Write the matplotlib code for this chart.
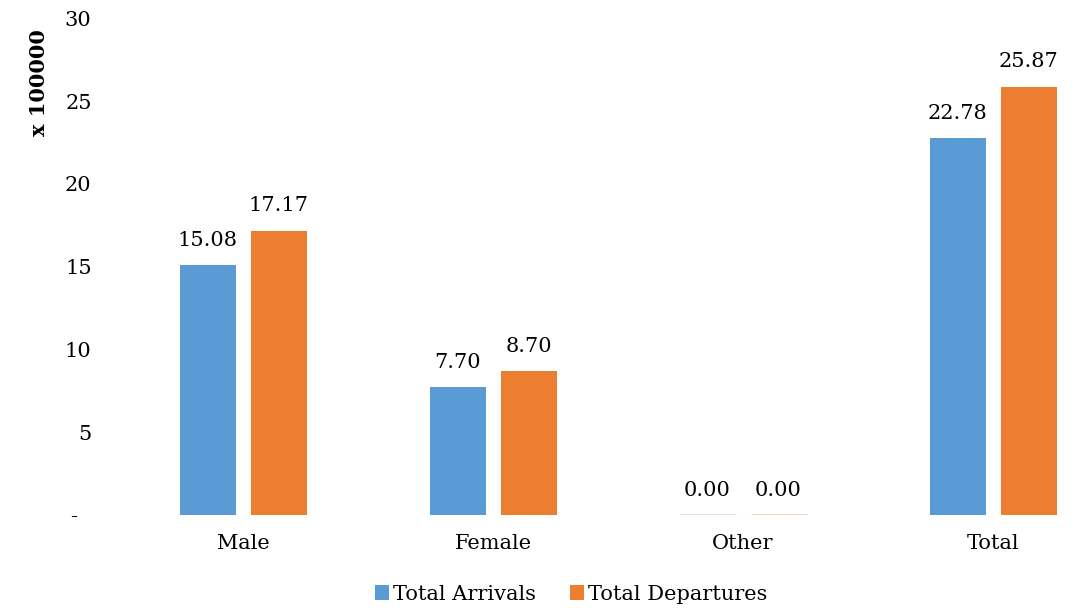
import matplotlib
matplotlib.use("Agg")
from matplotlib import pyplot as plt
import numpy as np

categorias = ["Male", "Female", "Other", "Total"]
llegadas = [15.08, 7.70, 0.00, 22.78]
salidas = [17.17, 8.70, 0.00, 25.87]
ticks_y = [0, 5, 10, 15, 20, 25, 30]
etiquetas_y = ["-  ", "5", "10", "15", "20", "25", "30"]

azul = "#5B9BD5"
naranja = "#ED7D31"

plt.rcParams['font.family'] = ['DejaVu Serif']

fig = plt.figure(figsize=(10.84, 6.08), dpi=100)
ax = fig.add_axes([0.0858, 0.153, 0.911, 0.817])

x = np.arange(len(categorias))
ancho = 0.224
desp = 0.142

b1 = ax.bar(x - desp, llegadas, ancho, color=azul, label="Total Arrivals")
b2 = ax.bar(x + desp, salidas, ancho, color=naranja, label="Total Departures")

for barras, claro in ((b1, "#cfdeee"), (b2, "#f5cdb4")):
    for b in barras:
        h = b.get_height()
        if h == 0:
            # barra vacia: solo una linea tenue
            ax.hlines(0, b.get_x(), b.get_x() + b.get_width(), color=claro, lw=2)
        ax.annotate("%.2f" % h, (b.get_x() + b.get_width() / 2, h),
                    xytext=(0, 11), textcoords="offset points",
                    ha="center", va="bottom", fontsize=15)

ax.set_xlim(-0.6, 3.35)
ax.set_ylim(0, 30)
ax.set_yticks(ticks_y)
ax.set_yticklabels(etiquetas_y, fontsize=15)
ax.set_xticks(x)
ax.set_xticklabels(categorias, fontsize=15)
ax.tick_params(axis="y", length=0, pad=1)
ax.tick_params(axis="x", length=0, pad=14)
for s in ax.spines.values():
    s.set_visible(False)

fig.text(0.036, 0.865, "x 100000", rotation=90, ha="center", va="center",
         fontsize=15, fontweight="bold")

fig.legend(handles=[b1, b2], loc="center", bbox_to_anchor=(0.527, 0.023),
           ncol=2, frameon=False, fontsize=15, handlelength=0.7,
           handleheight=0.7, handletextpad=0.2, columnspacing=1.6)

fig.savefig("out.png", dpi=100)
